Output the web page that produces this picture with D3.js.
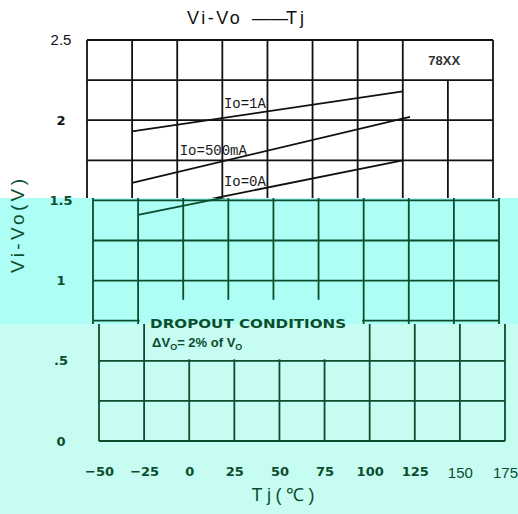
<!DOCTYPE html>
<html>
<head>
<meta charset="utf-8">
<script src="https://cdn.jsdelivr.net/npm/d3@7"></script>
<style>
  body { margin: 0; background: #fff; }
  svg { display: block; }
</style>
</head>
<body>
<svg id="chart"></svg>
<script>
// ---- data ----
const tempTicks = [-50, -25, 0, 25, 50, 75, 100, 125, 150, 175];
const boldTemps = [-50, -25, 0, 25, 50, 75, 100, 125];
const voltTicks = [0, 0.5, 1, 1.5, 2, 2.5];
const voltTickLabels = ["0", ".5", "1", "1.5", "2", "2.5"];
const voltGrid = [0, 0.25, 0.5, 0.75, 1, 1.25, 1.5, 1.75, 2, 2.25, 2.5];
const seriesNames = ["Io=1A", "Io=500mA", "Io=0A"];
const io1A = [{t: -25, v: 1.93}, {t: 125, v: 2.18}];
const io500mA = [{t: -25, v: 1.61}, {t: 129, v: 2.02}];
const io0A = [{t: -25, v: 1.41}, {t: 125, v: 1.75}];
const partName = "78XX";
const noteTitle = "DROPOUT  CONDITIONS";

const W = 518, H = 514;
const svg = d3.select("#chart").attr("width", W).attr("height", H);

const x = d3.scaleLinear().domain([-50, 175]).range([87, 493]);
const y = d3.scaleLinear().domain([0, 2.5]).range([441, 40]);

// the scan is pasted together from three strips, each slightly shifted
const bands = [
  {y0: 0,   y1: 198, dx: 0,  bg: "#ffffff", ink: "#111"},
  {y0: 198, y1: 324, dx: 6,  bg: "#adfef4", ink: "#0b4d2d"},
  {y0: 324, y1: 514, dx: 12, bg: "#c6fcf2", ink: "#0b4d2d"}
];
const green = "#0b4d2d";

const line = d3.line().x(d => x(d.t)).y(d => y(d.v));
const series = [io1A, io500mA, io0A];

const defs = svg.append("defs");

bands.forEach((b, i) => {
  defs.append("clipPath").attr("id", "band" + i)
    .append("rect").attr("x", 0).attr("y", b.y0).attr("width", W).attr("height", b.y1 - b.y0);

  const bg = svg.append("g").attr("clip-path", `url(#band${i})`);
  bg.append("rect").attr("x", 0).attr("y", b.y0).attr("width", W).attr("height", b.y1 - b.y0)
    .attr("fill", b.bg);

  const g = bg.append("g").attr("transform", `translate(${b.dx},0)`);

  g.selectAll(".hgrid").data(voltGrid).join("line")
    .attr("x1", x(-50)).attr("x2", x(175))
    .attr("y1", d => y(d)).attr("y2", d => y(d))
    .attr("stroke", b.ink).attr("stroke-width", 1.8);

  // the 78XX box has no line at 150 in its cell
  g.selectAll(".vgrid").data(tempTicks).join("line")
    .attr("x1", d => x(d)).attr("x2", d => x(d))
    .attr("y1", y(0)).attr("y2", d => d === 150 ? y(2.25) : y(2.5))
    .attr("stroke", b.ink).attr("stroke-width", 1.8);

  // blank cell holding the dropout note
  g.append("rect")
    .attr("x", x(-25) + 1.5).attr("y", y(0.88))
    .attr("width", x(100) - x(-25) - 3).attr("height", y(0.5) - y(0.88) - 1.5)
    .attr("fill", b.bg);

  g.selectAll(".series").data(series).join("path")
    .attr("d", line)
    .attr("fill", "none")
    .attr("stroke", b.ink).attr("stroke-width", 1.8);
});

// ---- annotations (top strip) ----
const labelAt = [[37.5, 2.105], [20, 1.814], [37.5, 1.62]];
svg.selectAll(".slabel").data(seriesNames).join("text")
  .attr("x", (d, i) => x(labelAt[i][0]))
  .attr("y", (d, i) => y(labelAt[i][1]))
  .attr("dy", "0.35em")
  .attr("text-anchor", "middle")
  .attr("font-family", "Liberation Mono, monospace")
  .attr("font-size", 14)
  .attr("fill", "#1a1a1a")
  .text(d => d);

svg.append("text")
  .attr("x", x(148)).attr("y", y(2.37)).attr("dy", "0.35em")
  .attr("text-anchor", "middle")
  .attr("font-family", "Liberation Sans, Arial, sans-serif")
  .attr("font-weight", "bold").attr("font-size", 13)
  .attr("fill", "#333")
  .text(partName);

// dropout note sits in the shifted bottom strip
const noteX = x(-25) + bands[2].dx + 6;
svg.append("text")
  .attr("x", noteX).attr("y", y(0.735)).attr("dy", "0.35em")
  .attr("font-family", "DejaVu Sans, sans-serif")
  .attr("font-weight", "bold").attr("font-size", 13)
  .attr("textLength", 196).attr("lengthAdjust", "spacingAndGlyphs")
  .attr("fill", green)
  .text(noteTitle);

const note2 = svg.append("text")
  .attr("x", noteX + 2).attr("y", y(0.617)).attr("dy", "0.35em")
  .attr("font-family", "Liberation Sans, Arial, sans-serif")
  .attr("font-weight", "bold").attr("font-size", 13)
  .attr("fill", green);
note2.append("tspan").text("ΔV");
note2.append("tspan").attr("font-size", 9).attr("dy", 3).text("O");
note2.append("tspan").attr("dy", -3).text("= 2% of V");
note2.append("tspan").attr("font-size", 9).attr("dy", 3).text("O");

// ---- axes (labels only, grid is drawn above) ----
const yAxisG = svg.append("g")
  .attr("transform", "translate(61,0)")
  .call(d3.axisLeft(y).tickValues(voltTicks).tickSize(0).tickPadding(0)
    .tickFormat((d, i) => voltTickLabels[i]));
yAxisG.select(".domain").remove();
yAxisG.selectAll("text")
  .attr("text-anchor", "middle")
  .attr("font-family", d => d === 2.5 ? "Liberation Sans, Arial, sans-serif" : "DejaVu Sans, sans-serif")
  .attr("font-weight", d => d === 2.5 ? "normal" : "bold")
  .attr("font-size", d => d === 2.5 ? 15 : 13)
  .attr("fill", d => d >= 2 ? "#111" : green);

const xb = x.copy().range(x.range().map(r => r + bands[2].dx));
const xAxisG = svg.append("g")
  .attr("transform", "translate(0,467)")
  .call(d3.axisBottom(xb).tickValues(tempTicks).tickSize(0).tickPadding(0));
xAxisG.select(".domain").remove();
xAxisG.selectAll("text")
  .attr("font-family", d => boldTemps.includes(d) ? "DejaVu Sans, sans-serif" : "Liberation Sans, Arial, sans-serif")
  .attr("font-weight", d => boldTemps.includes(d) ? "bold" : "normal")
  .attr("font-size", d => boldTemps.includes(d) ? 13 : 15)
  .attr("fill", green);

// ---- titles ----
const title = svg.append("text")
  .attr("x", 187).attr("y", 18).attr("dy", "0.35em")
  .attr("font-family", "Liberation Sans, Arial, sans-serif")
  .attr("font-size", 18)
  .attr("fill", "#111");
title.append("tspan").attr("letter-spacing", 2.5).text("Vi-Vo");
title.append("tspan").attr("x", 252).text("——");
title.append("tspan").attr("x", 286).attr("letter-spacing", 3).text("Tj");

svg.append("text")
  .attr("transform", "translate(17,226) rotate(-90)")
  .attr("dy", "0.35em")
  .attr("text-anchor", "middle")
  .attr("font-family", "Liberation Sans, Arial, sans-serif")
  .attr("font-size", 19)
  .attr("textLength", 94).attr("lengthAdjust", "spacing")
  .attr("fill", green)
  .text("Vi-Vo(V)");

svg.append("text")
  .attr("x", 283).attr("y", 495).attr("dy", "0.35em")
  .attr("text-anchor", "middle")
  .attr("font-family", "Liberation Sans, Arial, sans-serif")
  .attr("font-size", 18)
  .attr("textLength", 63).attr("lengthAdjust", "spacing")
  .attr("fill", green)
  .text("Tj(℃)");
</script>
</body>
</html>
